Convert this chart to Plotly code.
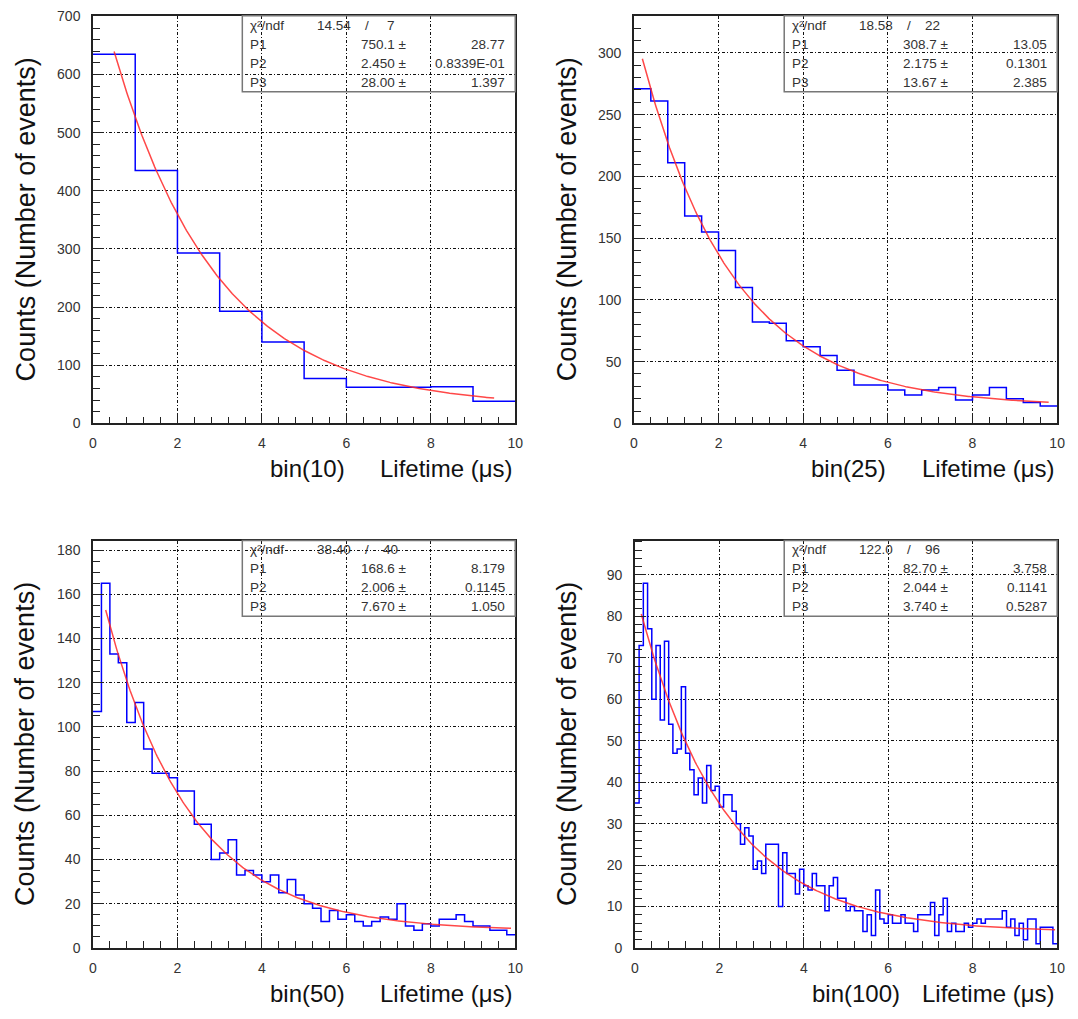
import numpy as np
import plotly.graph_objects as go

# ---------------- data ----------------
bin_labels = ["bin(10)", "bin(25)", "bin(50)", "bin(100)"]
x_range = [0, 10]

counts_bin10 = [635, 435, 293, 193, 140, 77, 62, 62, 63, 38]
counts_bin25 = [271, 261, 211, 168, 155, 140, 110, 82, 81, 67, 62, 55, 43,
                31, 31, 27, 23, 27, 29, 19, 23, 29, 20, 17, 14]
counts_bin50 = [107, 165, 133, 129, 102, 111, 90, 79, 79, 77, 71, 71, 56, 56,
                40, 43, 49, 33, 35, 33, 30, 33, 25, 31, 24, 20, 18, 12, 17, 13,
                15, 12, 10, 12, 14, 13, 20, 10, 8, 11, 10, 13, 13, 15, 12, 10,
                10, 8, 8, 6]
counts_bin100 = [35, 73, 88, 77, 60, 73, 55, 74, 54, 47, 48, 63, 47, 43, 37,
                 41, 35, 44, 38, 39, 34, 37, 37, 33, 30, 25, 29, 27, 19, 21,
                 18, 25, 25, 25, 10, 23, 18, 18, 13, 19, 15, 14, 18, 15, 15,
                 9, 15, 17, 12, 12, 9, 10, 9, 9, 4, 8, 3, 14, 7, 6, 8, 6, 6,
                 8, 6, 6, 4, 8, 8, 8, 11, 3, 8, 12, 4, 6, 4, 4, 6, 5, 6, 7, 6,
                 7, 7, 7, 7, 9, 5, 7, 3, 6, 2, 7, 7, 1, 5, 5, 5, 1]

# fit results shown in the stat boxes: P1*exp(-t/P2)+P3
chi2_vals = ["14.54", "18.58", "38.40", "122.0"]
ndf_vals = ["7", "22", "40", "96"]
p1_vals = [750.1, 308.7, 168.6, 82.70]
p2_vals = [2.450, 2.175, 2.006, 2.044]
p3_vals = [28.00, 13.67, 7.670, 3.740]
p1_txt = ["750.1", "308.7", "168.6", "82.70"]
p2_txt = ["2.450", "2.175", "2.006", "2.044"]
p3_txt = ["28.00", "13.67", "7.670", "3.740"]
e1_txt = ["28.77", "13.05", "8.179", "3.758"]
e2_txt = ["0.8339E-01", "0.1301", "0.1145", "0.1141"]
e3_txt = ["1.397", "2.385", "1.050", "0.5287"]
fit_start = [0.5, 0.2, 0.3, 0.15]
fit_end = [9.5, 9.8, 9.9, 9.95]

y_max = [701, 330, 184.3, 98.3]
y_dtick = [100, 50, 20, 10]
y_minor = [20, 10, 5, 2]

all_counts = [counts_bin10, counts_bin25, counts_bin50, counts_bin100]

# ---------------- layout geometry ----------------
W, H = 1078, 1019
panels = [(90, 8, 517, 422), (637, 8, 1065, 422),
          (90, 541, 517, 955), (638, 541, 1065, 955)]


def fx(px):
    return px / W


def fy(py):
    return 1 - py / H


FONT = "Liberation Sans, Arial, sans-serif"
fig = go.Figure()
annotations = []
shapes = []

for i, (L, T, R, B) in enumerate(panels):
    n = i + 1
    xa = "x" if n == 1 else f"x{n}"
    ya = "y" if n == 1 else f"y{n}"
    counts = all_counts[i]
    nb = len(counts)
    edges = np.linspace(x_range[0], x_range[1], nb + 1)
    fig.add_trace(go.Scatter(
        x=edges, y=list(counts) + [counts[-1]], mode="lines",
        line=dict(color="#0000ff", width=1.5, shape="hv"),
        xaxis=xa, yaxis=ya, showlegend=False, hoverinfo="skip"))
    xf = np.linspace(fit_start[i], fit_end[i], 300)
    yf = p1_vals[i] * np.exp(-xf / p2_vals[i]) + p3_vals[i]
    fig.add_trace(go.Scatter(
        x=xf, y=yf, mode="lines",
        line=dict(color="rgba(255,40,40,0.85)", width=1.5),
        xaxis=xa, yaxis=ya, showlegend=False, hoverinfo="skip"))

    axis_common = dict(
        showline=True, mirror=True, linecolor="#222", linewidth=1.5,
        showgrid=True, gridcolor="#111", gridwidth=1,
        griddash="3px,2px,1px,2px", zeroline=False,
        ticks="inside", tickcolor="#222", ticklen=11, tickwidth=1,
        tickfont=dict(family=FONT, size=14, color="#333"),
    )
    fig.layout[("xaxis" if n == 1 else f"xaxis{n}")] = dict(
        axis_common, domain=[fx(L), fx(R)], range=x_range,
        anchor=ya, tickmode="linear", tick0=0, dtick=2,
        ticklabelstandoff=6,
        minor=dict(dtick=0.4, ticks="inside", ticklen=7, tickcolor="#222",
                   showgrid=False))
    fig.layout[("yaxis" if n == 1 else f"yaxis{n}")] = dict(
        axis_common, domain=[fy(B), fy(T)], range=[0, y_max[i]],
        anchor=xa, tickmode="linear", tick0=0, dtick=y_dtick[i],
        ticklabelstandoff=8,
        minor=dict(dtick=y_minor[i], ticks="inside", ticklen=7,
                   tickcolor="#222", showgrid=False))

    # axis titles
    annotations.append(dict(
        x=fx(L - 68), y=fy((T + B) / 2), xref="paper", yref="paper",
        text="Counts (Number of events)", textangle=-90, showarrow=False,
        xanchor="center", yanchor="middle",
        font=dict(family=FONT, size=27, color="#111")))
    annotations.append(dict(
        x=fx(R), y=fy(B + 46), xref="paper", yref="paper",
        text="Lifetime (\u03bcs)", showarrow=False,
        xanchor="right", yanchor="middle",
        font=dict(family=FONT, size=24, color="#111")))
    annotations.append(dict(
        x=fx(L + 177), y=fy(B + 46), xref="paper", yref="paper",
        text=bin_labels[i], showarrow=False,
        xanchor="left", yanchor="middle",
        font=dict(family=FONT, size=24, color="#111")))

    # stat box
    bl, bt, br, bb = R - 276, T, R, T + 77
    shapes.append(dict(type="rect", xref="paper", yref="paper",
                       x0=fx(bl), x1=fx(br), y0=fy(bb), y1=fy(bt),
                       line=dict(color="#777", width=1.5),
                       fillcolor="rgba(0,0,0,0)", layer="above"))
    rows = [bt + 9.6 + 19.25 * k for k in range(4)]
    sf = dict(family=FONT, size=13.5, color="#333")

    def txt(x, y, s, anchor):
        annotations.append(dict(x=fx(x), y=fy(y), xref="paper", yref="paper",
                                text=s, showarrow=False, xanchor=anchor,
                                yanchor="middle", font=sf))

    txt(bl + 6, rows[0], "\u03c7\u00b2/ndf", "left")
    txt(bl + 112, rows[0], chi2_vals[i], "right")
    txt(bl + 126, rows[0], "/", "center")
    txt(bl + 150, rows[0], ndf_vals[i], "center")
    for k, (lab, val, err) in enumerate(zip(["P1", "P2", "P3"],
                                            [p1_txt[i], p2_txt[i], p3_txt[i]],
                                            [e1_txt[i], e2_txt[i], e3_txt[i]])):
        txt(bl + 6, rows[k + 1], lab, "left")
        txt(bl + 168, rows[k + 1], val + " \u00b1", "right")
        txt(br - 8, rows[k + 1], err, "right")

fig.update_layout(
    width=W, height=H, margin=dict(l=0, r=0, t=0, b=0),
    paper_bgcolor="white", plot_bgcolor="white",
    annotations=annotations, shapes=shapes, showlegend=False)

fig.write_html("out.html")
